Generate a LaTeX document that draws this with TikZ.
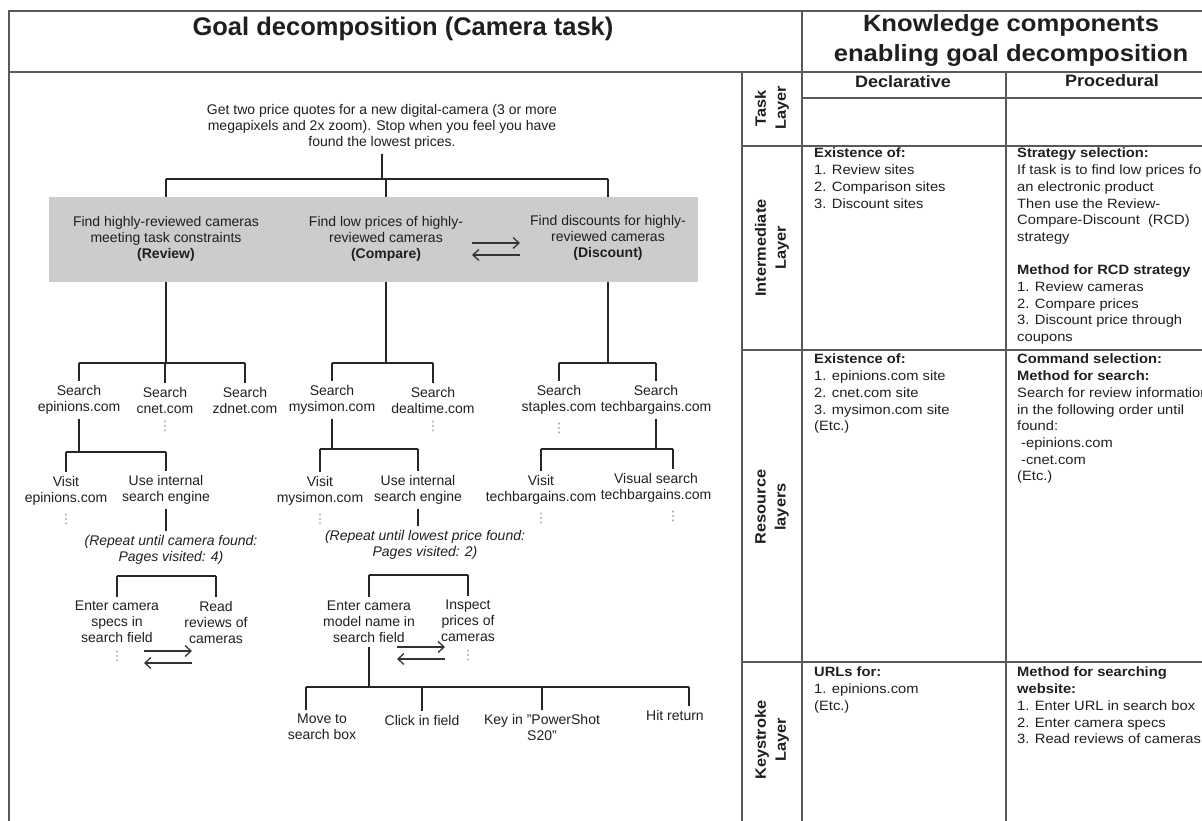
\documentclass[tikz,border=0pt]{standalone}
\usepackage{fontspec}
\setmainfont{Liberation Sans}
\newfontfamily\widefont{Liberation Sans}[FakeStretch=1.09]
\newfontfamily\dotfont{DejaVu Sans}
\usetikzlibrary{positioning,arrows.meta}

\begin{document}
\begin{tikzpicture}[x=1pt, y=-1pt,
    every node/.style={text=black!88},
    leaf/.style={font=\fontsize{14}{16}\selectfont, align=center, inner sep=4pt},
    note/.style={leaf, font=\fontsize{14}{16}\selectfont\itshape},
    link/.style={draw=black!85, line width=1.8pt},
    iter/.style={draw=black!80, line width=1.3pt, -{Straight Barb[length=6pt,width=11pt]}},
    dotmark/.style={text=black!45, inner sep=1pt, font=\dotfont\fontsize{13}{13}\selectfont},
    cellline/.style={draw=black!65, line width=1.3pt},
    goalbox/.style={fill=black!20, minimum width=649pt, minimum height=85pt, inner sep=0pt},
    layer/.style={rotate=90, align=center, font=\widefont\bfseries\fontsize{15}{20}\selectfont},
    head/.style={font=\widefont\bfseries\fontsize{16.5}{20}\selectfont},
    celltext/.style={anchor=north west, align=left, inner sep=0pt,
        font=\widefont\fontsize{13.5}{16.7}\selectfont}]
    \useasboundingbox (0,0) rectangle (1202,821);
    \clip (0,0) rectangle (1202,821);

    % frame and table rules
    \draw[cellline] (9,821) -- (9,11) -- (1202,11);
    \draw[cellline] (9,72) -- (1202,72);
    \draw[cellline] (802,11) -- (802,821);
    \draw[cellline] (742,72) -- (742,821);
    \draw[cellline] (1006,72) -- (1006,821);
    \draw[cellline] (802,98) -- (1202,98);
    \foreach \y in {146,350,662}
        \draw[cellline] (742,\y) -- (1202,\y);

    % goal tree
    \node[font=\bfseries\fontsize{25.5}{30}\selectfont] (title) at (403,29) {Goal decomposition (Camera task)};
    \node[leaf] (root) at (382,127) {Get two price quotes for a new digital-camera (3 or more\\megapixels and 2x zoom). Stop when you feel you have\\found the lowest prices.};

    \node[goalbox] (goals) at (373.5,239.5) {};
    \node[leaf] (review) at (166,239) {Find highly-reviewed cameras\\meeting task constraints\\\textbf{(Review)}};
    \node[leaf] (compare) at (386,239) {Find low prices of highly-\\reviewed cameras\\\textbf{(Compare)}};
    \node[leaf] (discount) at (608,238) {Find discounts for highly-\\reviewed cameras\\\textbf{(Discount)}};

    \coordinate (b0) at (382,179);
    \draw[link] (root) -- (b0);
    \draw[link] (b0 -| review) -- (b0 -| discount);
    \foreach \g in {review,compare,discount}
        \draw[link] (b0 -| \g) -- (\g |- goals.north);

    % search sites
    \foreach \n/\x/\t in {s1/79/epinions.com, s2/165/cnet.com, s3/245/zdnet.com,
        s4/332/mysimon.com, s5/433/dealtime.com, s6/559/staples.com, s7/656/techbargains.com}
        \node[leaf] (\n) at (\x,400) {Search\\\t};

    \coordinate (t1) at (166,363);
    \coordinate (t2) at (386,363);
    \coordinate (t3) at (608,363);
    \draw[link] (review |- goals.south) -- (t1);
    \draw[link] (compare |- goals.south) -- (t2);
    \draw[link] (discount |- goals.south) -- (t3);
    \draw[link] (t1 -| s1) -- (t1 -| s3);
    \draw[link] (t2 -| s4) -- (t2 -| s5);
    \draw[link] (t3 -| s6) -- (t3 -| s7);
    \foreach \s in {s1,s2,s3}
        \draw[link] (t1 -| \s) -- (\s);
    \foreach \s in {s4,s5}
        \draw[link] (t2 -| \s) -- (\s);
    \foreach \s in {s6,s7}
        \draw[link] (t3 -| \s) -- (\s);

    % visits
    \node[leaf] (v1) at (66,491) {Visit\\epinions.com};
    \node[leaf] (u1) at (166,490) {Use internal\\search engine};
    \node[leaf] (v4) at (320,491) {Visit\\mysimon.com};
    \node[leaf] (u4) at (418,490) {Use internal\\search engine};
    \node[leaf] (v7) at (541,490) {Visit\\techbargains.com};
    \node[leaf] (w7) at (656,488) {Visual search\\techbargains.com};
    \coordinate (w7top) at ([xshift=17pt]w7.north);

    \coordinate (t4) at (79,452);
    \coordinate (t5) at (332,449);
    \coordinate (t6) at (656,449);
    \draw[link] (s1) -- (t4);
    \draw[link] (s4) -- (t5);
    \draw[link] (s7) -- (t6);
    \draw[link] (t4 -| v1) -- (t4 -| u1);
    \draw[link] (t5 -| v4) -- (t5 -| u4);
    \draw[link] (t6 -| v7) -- (t6 -| w7top);
    \draw[link] (t4 -| v1) -- (v1);
    \draw[link] (t4 -| u1) -- (u1);
    \draw[link] (t5 -| v4) -- (v4);
    \draw[link] (t5 -| u4) -- (u4);
    \draw[link] (t6 -| v7) -- (v7);
    \draw[link] (t6 -| w7top) -- (w7top);

    % repeat notes and page steps
    \node[note] (r1) at (171,550) {(Repeat until camera found:\\Pages visited: 4)};
    \node[note] (r4) at (425,545) {(Repeat until lowest price found:\\Pages visited: 2)};
    \draw[link] (u1) -- (u1 |- r1.north);
    \draw[link] (u4) -- (u4 |- r4.north);

    \node[leaf] (e1) at (117,622) {Enter camera\\specs in\\search field};
    \node[leaf] (rd1) at (216,622) {Read\\reviews of\\cameras};
    \node[leaf] (e4) at (369,622) {Enter camera\\model name in\\search field};
    \node[leaf] (i4) at (468,621) {Inspect\\prices of\\cameras};

    \coordinate (t7) at (171,576);
    \coordinate (t8) at (425,575);
    \draw[link] (t7 -| e1) -- (t7 -| rd1);
    \draw[link] (t8 -| e4) -- (t8 -| i4);
    \foreach \s in {e1,rd1}
        \draw[link] (t7 -| \s) -- (\s);
    \foreach \s in {e4,i4}
        \draw[link] (t8 -| \s) -- (\s);

    % keystrokes
    \node[leaf] (k1) at (322,727) {Move to\\search box};
    \node[leaf] (k2) at (422,720) {Click in field};
    \node[leaf] (k3) at (542,727) {Key in "PowerShot\\S20"};
    \node[leaf] (k4) at (675,715) {Hit return};
    \coordinate (k1top) at ([xshift=-16pt]k1.north);
    \coordinate (k4top) at ([xshift=14pt]k4.north);

    \coordinate (t9) at (369,687);
    \draw[link] (e4) -- (t9);
    \draw[link] (t9 -| k1top) -- (t9 -| k4top);
    \draw[link] (t9 -| k1top) -- (k1top);
    \draw[link] (t9 -| k2) -- (k2);
    \draw[link] (t9 -| k3) -- (k3);
    \draw[link] (t9 -| k4top) -- (k4top);

    % back-and-forth arrows
    \foreach \x/\y [count=\i] in {472/243, 144/651, 397/647} {
        \coordinate (ia\i) at (\x,\y);
        \coordinate (ib\i) at (\x+48,\y);
        \draw[iter] (ia\i) -- (ib\i);
        \draw[iter] ([yshift=-12pt]ib\i) -- ([yshift=-12pt]ia\i);
    }

    % ellipsis marks
    \foreach \s in {s2,s5,s6,v1,v4,v7,e1,i4}
        \node[dotmark, below=3pt of \s] (\s dots) {⋮};
    \node[dotmark, below=3pt of w7, xshift=17pt] (w7dots) {⋮};

    % knowledge components table
    \node[font=\widefont\bfseries\fontsize{23.5}{30}\selectfont, align=center] (kc) at (1011,40) {Knowledge components\\enabling goal decomposition};
    \node[head] (decl) at (903,82) {Declarative};
    \node[head] (proc) at (1112,81) {Procedural};

    \node[layer] (ltask) at (772,108) {Task\\Layer};
    \node[layer] (linter) at (772,248) {Intermediate\\Layer};
    \node[layer] (lres) at (772,507) {Resource\\layers};
    \node[layer] (lkey) at (772,740) {Keystroke\\Layer};

    \node[celltext] (cid) at (814,148) {\textbf{Existence of:}\\1. Review sites\\2. Comparison sites\\3. Discount sites};
    \node[celltext] (cip) at (1017,148) {\textbf{Strategy selection:}\\If task is to find low prices for\\an electronic product\\Then use the Review-\\Compare-Discount~~(RCD)\\strategy\\[16.7pt]\textbf{Method for RCD strategy}\\1. Review cameras\\2. Compare prices\\3. Discount price through\\coupons};
    \node[celltext] (crd) at (814,354) {\textbf{Existence of:}\\1. epinions.com site\\2. cnet.com site\\3. mysimon.com site\\(Etc.)};
    \node[celltext] (crp) at (1017,354) {\textbf{Command selection:}\\\textbf{Method for search:}\\Search for review information\\in the following order until\\found:\\\hspace*{4pt}-epinions.com\\\hspace*{4pt}-cnet.com\\(Etc.)};
    \node[celltext] (ckd) at (814,667) {\textbf{URLs for:}\\1. epinions.com\\(Etc.)};
    \node[celltext] (ckp) at (1017,667) {\textbf{Method for searching}\\\textbf{website:}\\1. Enter URL in search box\\2. Enter camera specs\\3. Read reviews of cameras};

\end{tikzpicture}
\end{document}
